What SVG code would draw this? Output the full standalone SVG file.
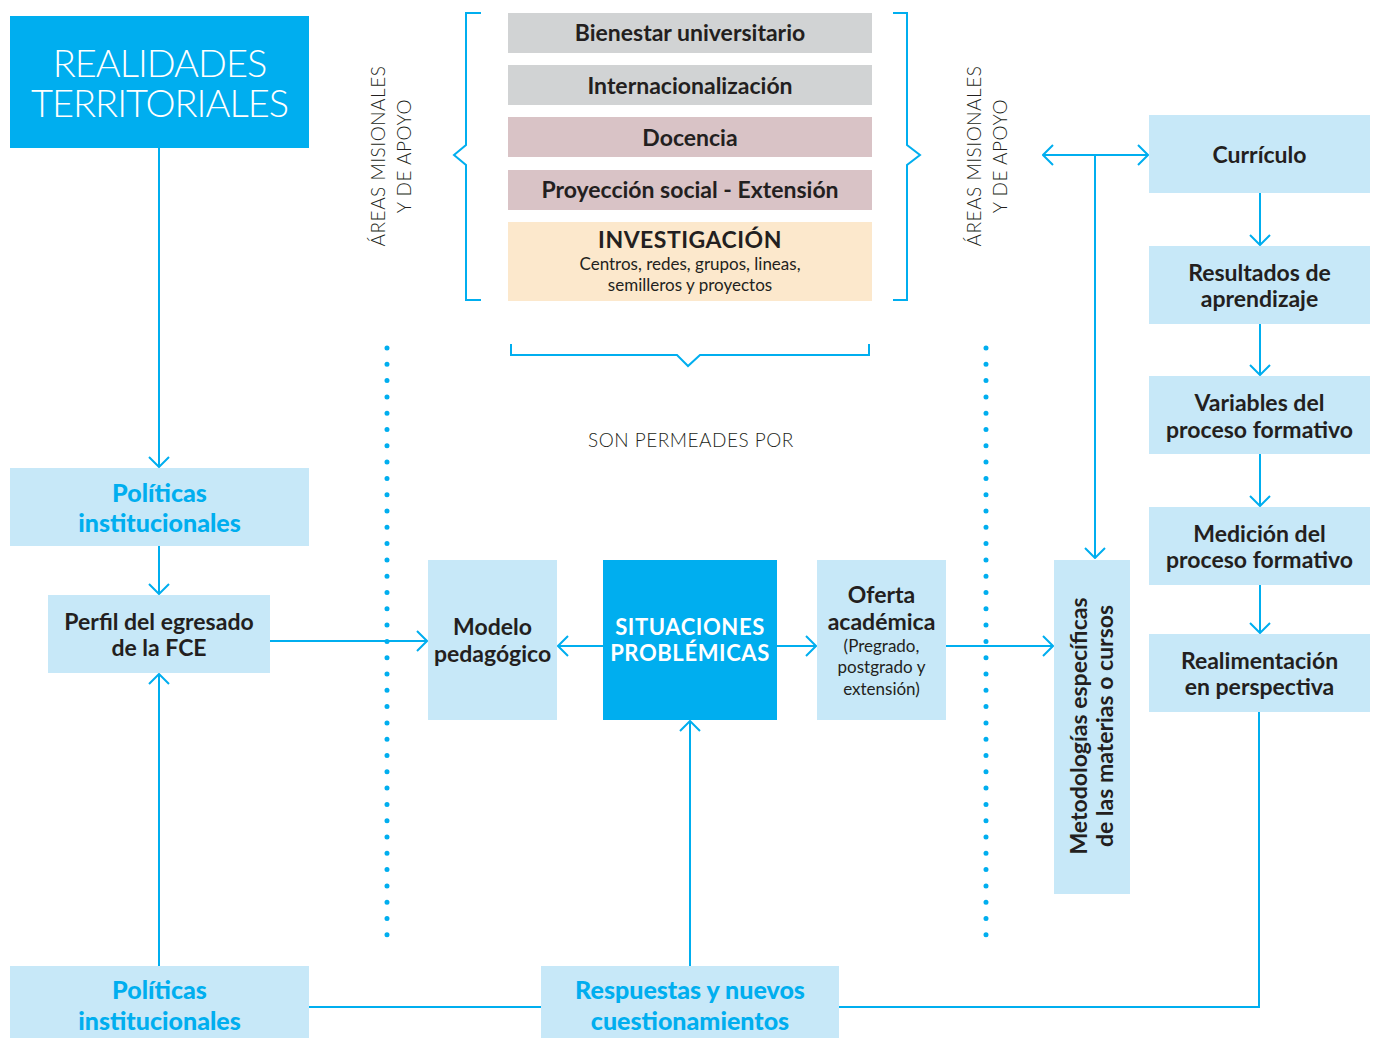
<svg xmlns="http://www.w3.org/2000/svg" width="1376" height="1038" viewBox="0 0 1376 1038">
<defs>
<marker id="arr" viewBox="0 0 12 22" refX="11" refY="11" markerWidth="12" markerHeight="22" markerUnits="userSpaceOnUse" orient="auto-start-reverse">
<path d="M1,1 L11,11 L1,21" fill="none" stroke="#00AEEF" stroke-width="2"/>
</marker>
<style>
.lb{fill:#C7E8F8}
.db{fill:#00AEEF}
.t{font-family:Lato,"Open Sans","Noto Sans",sans-serif;text-anchor:middle}
.bd{font-weight:700;fill:#231F20;font-size:23px}
.bb{font-weight:900;fill:#00AEEF;font-size:25px}
.rg{font-weight:400;fill:#231F20;font-size:17px}
.lt{font-weight:300;fill:#231F20;font-size:19px;letter-spacing:0.5px}
.ln{fill:none;stroke:#00AEEF;stroke-width:2}
.dot{fill:none;stroke:#00AEEF;stroke-width:5;stroke-linecap:round;stroke-dasharray:0 16.3}
</style>
</defs>
<rect width="1376" height="1038" fill="#FFFFFF"/>

<g id="connectors">
<line class="ln" x1="159" y1="148" x2="159" y2="467" marker-end="url(#arr)"/>
<line class="ln" x1="159" y1="546" x2="159" y2="594" marker-end="url(#arr)"/>
<line class="ln" x1="159" y1="966" x2="159" y2="674" marker-end="url(#arr)"/>
<line class="ln" x1="270" y1="641" x2="427" y2="641" marker-end="url(#arr)"/>
<line class="ln" x1="603" y1="646" x2="558" y2="646" marker-end="url(#arr)"/>
<line class="ln" x1="777" y1="646" x2="816" y2="646" marker-end="url(#arr)"/>
<line class="ln" x1="946" y1="646" x2="1053" y2="646" marker-end="url(#arr)"/>
<line class="ln" x1="690" y1="966" x2="690" y2="721" marker-end="url(#arr)"/>
<polyline class="ln" points="309,1007 1259,1007 1259,712"/>
<line class="ln" x1="1043" y1="155" x2="1148" y2="155" marker-start="url(#arr)" marker-end="url(#arr)"/>
<line class="ln" x1="1095" y1="155" x2="1095" y2="558" marker-end="url(#arr)"/>
<line class="ln" x1="1260" y1="193" x2="1260" y2="245" marker-end="url(#arr)"/>
<line class="ln" x1="1260" y1="324" x2="1260" y2="375" marker-end="url(#arr)"/>
<line class="ln" x1="1260" y1="454" x2="1260" y2="506" marker-end="url(#arr)"/>
<line class="ln" x1="1260" y1="585" x2="1260" y2="633" marker-end="url(#arr)"/>
<path class="ln" d="M481,13 H466 V145 L454,155 L466,165 V300 H481"/>
<path class="ln" d="M893,13 H907 V145 L920,155 L907,165 V300 H893"/>
<path class="ln" d="M511,344 V355 H677 L688,366 L700,355 H869 V344"/>
<line class="dot" x1="387" y1="348" x2="387" y2="937"/>
<line class="dot" x1="986" y1="348" x2="986" y2="937"/>
</g>

<g id="realidades">
<rect class="db" x="10" y="16" width="299" height="132"/>
<text class="t" x="159.5" y="77" font-size="38" font-weight="300" fill="#FFFFFF" letter-spacing="-1">REALIDADES</text>
<text class="t" x="159.5" y="117" font-size="38" font-weight="300" fill="#FFFFFF" letter-spacing="-1">TERRITORIALES</text>
</g>

<g id="politicas-top">
<rect class="lb" x="10" y="468" width="299" height="78"/>
<text class="t bb" x="159.5" y="502">Políticas</text>
<text class="t bb" x="159.5" y="532">institucionales</text>
</g>

<g id="perfil">
<rect class="lb" x="48" y="595" width="222" height="78"/>
<text class="t bd" x="159" y="630">Perfil del egresado</text>
<text class="t bd" x="159" y="656">de la FCE</text>
</g>

<g id="politicas-bottom">
<rect class="lb" x="10" y="966" width="299" height="72"/>
<text class="t bb" x="159.5" y="999">Políticas</text>
<text class="t bb" x="159.5" y="1030">institucionales</text>
</g>

<g id="respuestas">
<rect class="lb" x="541" y="966" width="298" height="72"/>
<text class="t bb" x="690" y="999">Respuestas y nuevos</text>
<text class="t bb" x="690" y="1030">cuestionamientos</text>
</g>

<g id="areas-left">
<text class="t lt" transform="translate(385,156) rotate(-90)">ÁREAS MISIONALES</text>
<text class="t lt" transform="translate(411,156) rotate(-90)">Y DE APOYO</text>
</g>
<g id="areas-right">
<text class="t lt" transform="translate(981,156) rotate(-90)">ÁREAS MISIONALES</text>
<text class="t lt" transform="translate(1007,156) rotate(-90)">Y DE APOYO</text>
</g>

<g id="bienestar">
<rect x="508" y="13" width="364" height="40" fill="#D1D3D4"/>
<text class="t bd" x="690" y="41">Bienestar universitario</text>
</g>
<g id="internacionalizacion">
<rect x="508" y="65" width="364" height="40" fill="#D1D3D4"/>
<text class="t bd" x="690" y="94">Internacionalización</text>
</g>
<g id="docencia">
<rect x="508" y="117" width="364" height="40" fill="#D9C3C6"/>
<text class="t bd" x="690" y="146">Docencia</text>
</g>
<g id="proyeccion">
<rect x="508" y="170" width="364" height="40" fill="#D9C3C6"/>
<text class="t bd" x="690" y="198">Proyección social - Extensión</text>
</g>
<g id="investigacion">
<rect x="508" y="222" width="364" height="79" fill="#FCE8CC"/>
<text class="t bd" x="690" y="248" letter-spacing="0.5">INVESTIGACIÓN</text>
<text class="t rg" x="690" y="270">Centros, redes, grupos, lineas,</text>
<text class="t rg" x="690" y="291">semilleros y proyectos</text>
</g>

<g id="son-permeades">
<text class="t lt" x="691" y="447" font-size="18">SON PERMEADES POR</text>
</g>

<g id="modelo">
<rect class="lb" x="428" y="560" width="129" height="160"/>
<text class="t bd" x="492.5" y="635">Modelo</text>
<text class="t bd" x="492.5" y="662">pedagógico</text>
</g>

<g id="situaciones">
<rect class="db" x="603" y="560" width="174" height="160"/>
<text class="t" x="690" y="635" font-size="22" font-weight="700" fill="#FFFFFF" letter-spacing="0.6">SITUACIONES</text>
<text class="t" x="690" y="661" font-size="22" font-weight="700" fill="#FFFFFF" letter-spacing="0.6">PROBLÉMICAS</text>
</g>

<g id="oferta">
<rect class="lb" x="817" y="560" width="129" height="160"/>
<text class="t bd" x="881.5" y="603">Oferta</text>
<text class="t bd" x="881.5" y="630">académica</text>
<text class="t rg" x="881.5" y="652">(Pregrado,</text>
<text class="t rg" x="881.5" y="673">postgrado y</text>
<text class="t rg" x="881.5" y="695">extensión)</text>
</g>

<g id="metodologias">
<rect class="lb" x="1054" y="560" width="76" height="334"/>
<text class="t bd" transform="translate(1087,726) rotate(-90)">Metodologías específicas</text>
<text class="t bd" transform="translate(1113,726) rotate(-90)">de las materias o cursos</text>
</g>

<g id="curriculo">
<rect class="lb" x="1149" y="115" width="221" height="78"/>
<text class="t bd" x="1259.5" y="163">Currículo</text>
</g>
<g id="resultados">
<rect class="lb" x="1149" y="246" width="221" height="78"/>
<text class="t bd" x="1259.5" y="281">Resultados de</text>
<text class="t bd" x="1259.5" y="307">aprendizaje</text>
</g>
<g id="variables">
<rect class="lb" x="1149" y="376" width="221" height="78"/>
<text class="t bd" x="1259.5" y="411">Variables del</text>
<text class="t bd" x="1259.5" y="438">proceso formativo</text>
</g>
<g id="medicion">
<rect class="lb" x="1149" y="507" width="221" height="78"/>
<text class="t bd" x="1259.5" y="542">Medición del</text>
<text class="t bd" x="1259.5" y="568">proceso formativo</text>
</g>
<g id="realimentacion">
<rect class="lb" x="1149" y="634" width="221" height="78"/>
<text class="t bd" x="1259.5" y="669">Realimentación</text>
<text class="t bd" x="1259.5" y="695">en perspectiva</text>
</g>
</svg>
